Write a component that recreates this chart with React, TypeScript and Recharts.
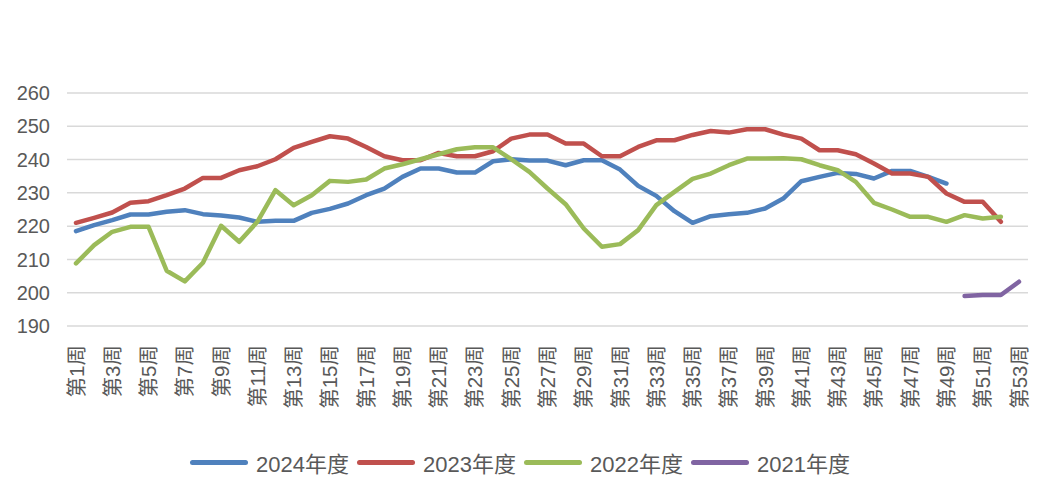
import React from "react";
import {
  LineChart,
  Line,
  XAxis,
  YAxis,
  CartesianGrid,
  Legend,
} from "recharts";

const weeks = Array.from({ length: 53 }, (_, i) => `第${i + 1}周`);

const y2024 = [
  218.5, 220.3, 221.8, 223.5, 223.5, 224.3, 224.8, 223.6, 223.2, 222.6,
  221.3, 221.6, 221.6, 224.0, 225.2, 226.8, 229.3, 231.3, 234.8, 237.3,
  237.3, 236.1, 236.1, 239.5, 240.1, 239.7, 239.7, 238.3, 239.8, 239.8,
  237.0, 232.1, 229.1, 224.5, 221.0, 223.0, 223.6, 224.0, 225.3, 228.3,
  233.5, 234.8, 236.0, 235.7, 234.3, 236.6, 236.6, 234.8, 232.8,
];

const y2023 = [
  221.0, 222.5, 224.1, 227.0, 227.5, 229.3, 231.3, 234.5, 234.5, 236.8,
  238.0, 240.1, 243.5, 245.3, 247.0, 246.3, 243.8, 241.0, 239.8, 239.8,
  242.0, 241.0, 241.0, 242.5, 246.3, 247.5, 247.5, 244.8, 244.8, 241.0,
  241.0, 243.8, 245.8, 245.8, 247.4, 248.6, 248.1, 249.1, 249.1, 247.5,
  246.3, 242.8, 242.8, 241.6, 238.8, 235.8, 235.8, 234.8, 229.8, 227.3,
  227.3, 221.3,
];

const y2022 = [
  208.8, 214.3, 218.3, 219.8, 219.8, 206.6, 203.4, 209.0, 220.1, 215.3,
  221.3, 230.8, 226.3, 229.3, 233.6, 233.3, 234.0, 237.3, 238.6, 240.1,
  241.6, 243.1, 243.7, 243.7, 240.1, 236.3, 231.3, 226.6, 219.3, 213.8,
  214.6, 218.8, 226.3, 230.3, 234.2, 235.8, 238.3, 240.3, 240.3, 240.4,
  240.1, 238.3, 236.8, 233.3, 227.0, 225.0, 222.8, 222.8, 221.3, 223.3,
  222.3, 222.8,
];

// 2021 only has the last four weeks
const y2021Start = 50;
const y2021 = [199.0, 199.3, 199.3, 203.3];

const yTicks = [190, 200, 210, 220, 230, 240, 250, 260];

const series = [
  { key: "s2024", name: "2024年度", color: "#4f81bd" },
  { key: "s2023", name: "2023年度", color: "#c0504d" },
  { key: "s2022", name: "2022年度", color: "#9bbb59" },
  { key: "s2021", name: "2021年度", color: "#8064a2" },
];

const data = weeks.map((w, i) => ({
  week: w,
  s2024: y2024[i] ?? null,
  s2023: y2023[i] ?? null,
  s2022: y2022[i] ?? null,
  s2021: i + 1 >= y2021Start ? y2021[i + 1 - y2021Start] : null,
}));

const FONT = "'Liberation Sans', 'Noto Sans CJK SC', sans-serif";

function WeekTick({ x, y, payload }: any) {
  return (
    <text
      x={x}
      y={y}
      transform={`rotate(-90 ${x} ${y})`}
      textAnchor="end"
      dominantBaseline="central"
      fontSize={20.5}
      fontFamily={FONT}
      fill="#595959"
    >
      {payload.value}
    </text>
  );
}

function LegendRow() {
  return (
    <div
      style={{
        display: "flex",
        justifyContent: "center",
        alignItems: "center",
        fontFamily: FONT,
        fontSize: 22,
        color: "#595959",
      }}
    >
      {series.map((s, i) => (
        <div
          key={s.key}
          style={{
            display: "flex",
            alignItems: "center",
            marginLeft: i === 0 ? 0 : 8,
          }}
        >
          <span
            style={{
              display: "inline-block",
              width: 58,
              height: 5,
              borderRadius: 3,
              background: s.color,
              marginRight: 8,
            }}
          />
          <span>{s.name}</span>
        </div>
      ))}
    </div>
  );
}

export default function App() {
  return (
    <div style={{ position: "absolute", left: 0, top: 0, background: "#fff" }}>
      <LineChart
        width={1040}
        height={487}
        data={data}
        margin={{ top: 93, right: 12, left: 0, bottom: 61 }}
      >
        <CartesianGrid vertical={false} stroke="#d9d9d9" strokeWidth={1.5} />
        <XAxis
          dataKey="week"
          interval={1}
          height={100}
          padding={{ left: 9, right: 9 }}
          axisLine={false}
          tickLine={false}
          tickSize={0}
          tickMargin={19}
          tick={<WeekTick />}
        />
        <YAxis
          domain={[190, 260]}
          ticks={yTicks}
          width={67}
          axisLine={false}
          tickLine={false}
          tickSize={0}
          tickMargin={17}
          tick={{ fontSize: 20, fill: "#595959", fontFamily: FONT }}
        />
        <Legend
          verticalAlign="middle"
          align="center"
          wrapperStyle={{ top: 446, left: 0, width: 1040 }}
          content={<LegendRow />}
        />
        {series.map((s) => (
          <Line
            key={s.key}
            dataKey={s.key}
            name={s.name}
            stroke={s.color}
            strokeWidth={4.5}
            strokeLinejoin="round"
            strokeLinecap="round"
            dot={false}
            activeDot={false}
            connectNulls={false}
            isAnimationActive={false}
          />
        ))}
      </LineChart>
    </div>
  );
}
